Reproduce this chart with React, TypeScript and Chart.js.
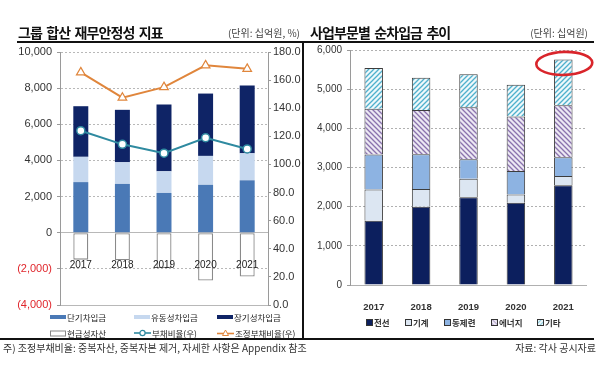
import React, { useEffect, useRef } from "react";
import { Chart, registerables } from "chart.js";

Chart.register(...registerables);

// ---------- data ----------
const YEARS = ["2017", "2018", "2019", "2020", "2021"];

// left chart (십억원 / %)
const SHORT_TERM = [2800, 2700, 2200, 2650, 2900];
const CURRENT_LT = [1400, 1200, 1200, 1600, 1500];
const LONG_TERM = [2800, 2900, 3700, 3450, 3750];
const CASH = [-1490, -1530, -1950, -2650, -2420];
const DEBT_RATIO = [124, 114.3, 108, 119, 111];
const ADJ_DEBT_RATIO = [165.5, 147.5, 155, 170.5, 168];
const LEFT_NAMES = ["단기차입금", "유동성차입금", "장기성차입금", "현금성자산", "부채비율(우)", "조정부채비율(우)"];

// right chart (십억원)
const WIRE = [1640, 2000, 2240, 2100, 2550];
const MACHINE = [800, 450, 470, 210, 230];
const COPPER = [890, 890, 500, 600, 480];
const ENERGY = [1170, 1130, 1330, 1390, 1330];
const OTHER = [1040, 820, 840, 815, 1170];
const RIGHT_NAMES = ["전선", "기계", "동제련", "에너지", "기타"];
const HIGHLIGHT_INDEX = 4;

// ---------- styles ----------
const KR = "'Noto Sans CJK KR', sans-serif";
const NUM = "'Liberation Sans', 'Noto Sans CJK KR', sans-serif";

const C_SHORT = "#4a79b6";
const C_CURLT = "#c6d8ef";
const C_LONG = "#0f2466";
const C_TEAL = "#2f8aa0";
const C_ORANGE = "#e0863c";
const C_WIRE = "#0c1f5e";
const C_MACHINE = "#dce6f2";
const C_COPPER = "#8db3e2";
const C_EN_BG = "#ece8f3";
const C_EN_FG = "#8a72ad";
const C_OT_BG = "#eef8fb";
const C_OT_FG = "#4fb0cc";

Chart.defaults.font.family = NUM;

const fmt = (v: number) => Math.abs(v).toLocaleString("en-US");

function hatch(bg: string, fg: string, dir: "/" | "\\") {
  const s = 5;
  const c = document.createElement("canvas");
  c.width = s;
  c.height = s;
  const g = c.getContext("2d")!;
  g.fillStyle = bg;
  g.fillRect(0, 0, s, s);
  g.strokeStyle = fg;
  g.lineWidth = 1.3;
  g.beginPath();
  if (dir === "/") {
    g.moveTo(-1, s + 1); g.lineTo(s + 1, -1);
    g.moveTo(-1, 1); g.lineTo(1, -1);
    g.moveTo(s - 1, s + 1); g.lineTo(s + 1, s - 1);
  } else {
    g.moveTo(-1, -1); g.lineTo(s + 1, s + 1);
    g.moveTo(-1, s - 1); g.lineTo(1, s + 1);
    g.moveTo(s - 1, -1); g.lineTo(s + 1, 1);
  }
  g.stroke();
  return g.createPattern(c, "repeat")!;
}

const gridDash = (zeroValues: number[]) => (ctx: any) =>
  ctx && ctx.tick && zeroValues.indexOf(ctx.tick.value) < 0 ? [2, 2] : [];

function LeftChart() {
  const ref = useRef<HTMLCanvasElement>(null);
  useEffect(() => {
    const chart = new Chart(ref.current!, {
      type: "bar",
      data: {
        labels: YEARS,
        datasets: [
          {
            type: "line",
            label: LEFT_NAMES[4],
            data: DEBT_RATIO,
            yAxisID: "y1",
            order: 0,
            borderColor: C_TEAL,
            borderWidth: 2,
            pointStyle: "circle",
            pointRadius: 4,
            pointBackgroundColor: "#fff",
            pointBorderColor: C_TEAL,
            pointBorderWidth: 1.5,
          } as any,
          {
            type: "line",
            label: LEFT_NAMES[5],
            data: ADJ_DEBT_RATIO,
            yAxisID: "y1",
            order: 0,
            borderColor: C_ORANGE,
            borderWidth: 2,
            pointStyle: "triangle",
            pointRadius: 5,
            pointBackgroundColor: "#fff",
            pointBorderColor: C_ORANGE,
            pointBorderWidth: 1.2,
          } as any,
          { label: LEFT_NAMES[0], data: SHORT_TERM, backgroundColor: C_SHORT, order: 1 },
          { label: LEFT_NAMES[1], data: CURRENT_LT, backgroundColor: C_CURLT, order: 1 },
          { label: LEFT_NAMES[2], data: LONG_TERM, backgroundColor: C_LONG, order: 1 },
          {
            label: LEFT_NAMES[3],
            data: CASH,
            backgroundColor: "#fff",
            borderColor: "#8a8a8a",
            borderWidth: 1.3,
            borderSkipped: false,
            order: 1,
          },
        ],
      },
      options: {
        responsive: false,
        animation: false,
        devicePixelRatio: 1,
        events: [],
        layout: { padding: { top: 52, bottom: 15, left: 0, right: 0 } },
        datasets: { bar: { categoryPercentage: 1, barPercentage: 0.36 } },
        plugins: { legend: { display: false }, tooltip: { enabled: false } },
        scales: {
          x: {
            stacked: true,
            position: { y: 0 } as any,
            grid: { display: false, drawTicks: false },
            border: { display: false },
            ticks: { z: 1, padding: 26.5, color: "#222", font: { size: 10 } },
          },
          y: {
            stacked: true,
            min: -4000,
            max: 10000,
            afterFit: (s: any) => { s.width = 60; },
            ticks: {
              stepSize: 2000,
              padding: 5,
              font: { size: 11 },
              color: (ctx: any) => (ctx.tick && ctx.tick.value < 0 ? "#e0262c" : "#333"),
              callback: (v: any) => (Number(v) < 0 ? `(${fmt(Number(v))})` : fmt(Number(v))),
            },
            grid: { color: "#b8b8b8", tickLength: 3, tickColor: "#9a9a9a", lineWidth: 1 },
            border: { display: true, color: "#9a9a9a", width: 1, dash: gridDash([0, -4000]) as any },
          },
          y1: {
            position: "right",
            min: 0,
            max: 180,
            afterFit: (s: any) => { s.width = 35; },
            ticks: {
              stepSize: 20,
              padding: 2,
              font: { size: 11 },
              color: "#333",
              callback: (v: any) => Number(v).toFixed(1),
            },
            grid: { drawOnChartArea: false, tickLength: 3, tickColor: "#9a9a9a" },
            border: { display: true, color: "#9a9a9a", width: 1 },
          },
        },
      } as any,
    });
    return () => chart.destroy();
  }, []);
  return (
    <canvas
      ref={ref}
      width={303}
      height={320}
      style={{ position: "absolute", left: 0, top: 0, width: 303, height: 320 }}
    />
  );
}

const ellipsePlugin = {
  id: "highlightEllipse",
  afterDatasetsDraw(chart: any) {
    const xs = chart.scales.x;
    const ys = chart.scales.y;
    let total = 0;
    chart.data.datasets.forEach((d: any) => { total += Number(d.data[HIGHLIGHT_INDEX]) || 0; });
    const x = xs.getPixelForValue(HIGHLIGHT_INDEX) + 1;
    const y = ys.getPixelForValue(total) + 4;
    const ctx = chart.ctx;
    ctx.save();
    ctx.beginPath();
    ctx.ellipse(x, y, 28, 11.5, -0.03, 0, Math.PI * 2);
    ctx.strokeStyle = "#d9252b";
    ctx.lineWidth = 2.6;
    ctx.stroke();
    ctx.restore();
  },
};

function RightChart() {
  const ref = useRef<HTMLCanvasElement>(null);
  useEffect(() => {
    const enPat = hatch(C_EN_BG, C_EN_FG, "\\");
    const otPat = hatch(C_OT_BG, C_OT_FG, "/");
    const common = { borderColor: "#3c3c3c", borderWidth: 1 };
    const chart = new Chart(ref.current!, {
      type: "bar",
      data: {
        labels: YEARS,
        datasets: [
          { label: RIGHT_NAMES[0], data: WIRE, backgroundColor: C_WIRE, ...common },
          { label: RIGHT_NAMES[1], data: MACHINE, backgroundColor: C_MACHINE, ...common },
          { label: RIGHT_NAMES[2], data: COPPER, backgroundColor: C_COPPER, ...common },
          { label: RIGHT_NAMES[3], data: ENERGY, backgroundColor: enPat as any, ...common },
          { label: RIGHT_NAMES[4], data: OTHER, backgroundColor: otPat as any, ...common },
        ],
      },
      options: {
        responsive: false,
        animation: false,
        devicePixelRatio: 1,
        events: [],
        layout: { padding: { top: 50, bottom: 30, left: 0, right: 13 } },
        datasets: { bar: { categoryPercentage: 1, barPercentage: 0.39 } },
        plugins: { legend: { display: false }, tooltip: { enabled: false } },
        scales: {
          x: {
            stacked: true,
            position: { y: 0 } as any,
            grid: { display: false, drawTicks: false },
            border: { display: false },
            ticks: { padding: 16.5, color: "#333", font: { size: 9.5, weight: "bold" } },
          },
          y: {
            stacked: true,
            min: 0,
            max: 6000,
            afterFit: (s: any) => { s.width = 47; },
            ticks: {
              stepSize: 1000,
              padding: 5,
              font: { size: 10 },
              color: "#333",
              callback: (v: any) => fmt(Number(v)),
            },
            grid: { color: "#b0b0b0", tickLength: 3, tickColor: "#9a9a9a", lineWidth: 1 },
            border: { display: true, color: "#9a9a9a", width: 1, dash: gridDash([0]) as any },
          },
        },
      } as any,
      plugins: [ellipsePlugin as any],
    });
    return () => chart.destroy();
  }, []);
  return (
    <canvas
      ref={ref}
      width={297}
      height={315}
      style={{ position: "absolute", left: 303, top: 0, width: 297, height: 315 }}
    />
  );
}

const txt = (extra: React.CSSProperties): React.CSSProperties => ({
  position: "absolute",
  whiteSpace: "nowrap",
  fontFamily: KR,
  ...extra,
});

function LeftLegend() {
  const cols = [50, 134, 217];
  const rows = [317, 333];
  const markers: React.ReactNode[] = [
    <svg width="16" height="6"><rect x="0" y="1" width="16" height="4" fill={C_SHORT} /></svg>,
    <svg width="16" height="6"><rect x="0" y="1" width="16" height="4" fill={C_CURLT} /></svg>,
    <svg width="16" height="6"><rect x="0" y="1" width="16" height="4" fill={C_LONG} /></svg>,
    <svg width="16" height="7"><rect x="0.5" y="1" width="15" height="5" fill="#fff" stroke="#888" strokeWidth="1" /></svg>,
    <svg width="17" height="8"><line x1="0" y1="4" x2="17" y2="4" stroke={C_TEAL} strokeWidth="1.6" /><circle cx="8.5" cy="4" r="2.6" fill="#fff" stroke={C_TEAL} strokeWidth="1.2" /></svg>,
    <svg width="17" height="8"><line x1="0" y1="4.5" x2="17" y2="4.5" stroke={C_ORANGE} strokeWidth="1.6" /><polygon points="8.5,1 11.5,6.5 5.5,6.5" fill="#fff" stroke={C_ORANGE} strokeWidth="1" /></svg>,
  ];
  return (
    <>
      {LEFT_NAMES.map((name, i) => {
        const c = cols[i % 3];
        const r = rows[Math.floor(i / 3)];
        return (
          <div key={name} style={txt({ left: c, top: r - 7, height: 14, display: "flex", alignItems: "center", fontSize: 8.5, color: "#222", lineHeight: "14px" })}>
            <span style={{ display: "inline-flex", marginRight: 1 }}>{markers[i]}</span>
            <span>{name}</span>
          </div>
        );
      })}
    </>
  );
}

function RightLegend() {
  const xs = [366, 405, 444, 491, 537];
  const y = 322;
  const fills = [C_WIRE, C_MACHINE, C_COPPER, "en", "ot"];
  return (
    <>
      {RIGHT_NAMES.map((name, i) => {
        const f = fills[i];
        return (
          <div key={name} style={txt({ left: xs[i], top: y - 7, height: 14, display: "flex", alignItems: "center", fontSize: 8.5, fontWeight: 700, color: "#333", lineHeight: "14px" })}>
            <svg width="7" height="7" style={{ marginRight: 1 }}>
              <defs>
                <pattern id={`p${i}`} width="3" height="3" patternUnits="userSpaceOnUse" patternTransform={f === "en" ? "rotate(-45)" : "rotate(45)"}>
                  <rect width="3" height="3" fill={f === "en" ? C_EN_BG : C_OT_BG} />
                  <line x1="0" y1="0" x2="0" y2="3" stroke={f === "en" ? C_EN_FG : C_OT_FG} strokeWidth="1.2" />
                </pattern>
              </defs>
              <rect x="0.5" y="0.5" width="6" height="6" fill={f === "en" || f === "ot" ? `url(#p${i})` : f} stroke="#333" strokeWidth="1" />
            </svg>
            <span>{name}</span>
          </div>
        );
      })}
    </>
  );
}

export default function App() {
  return (
    <div style={{ position: "fixed", left: 0, top: 0, width: 600, height: 370, background: "#fff", overflow: "hidden" }}>
      <LeftChart />
      <RightChart />

      <div style={txt({ left: 18, top: 24, fontSize: 14, fontWeight: 700, lineHeight: "16px", letterSpacing: "-0.9px", wordSpacing: "2px", color: "#111" })}>
        그룹 합산 재무안정성 지표
      </div>
      <div style={txt({ left: 180, width: 120, top: 26, fontSize: 10, lineHeight: "14px", textAlign: "right", color: "#444" })}>
        (단위: 십억원, %)
      </div>
      <div style={txt({ left: 310, top: 24, fontSize: 14, fontWeight: 700, lineHeight: "16px", letterSpacing: "-0.9px", wordSpacing: "2px", color: "#111" })}>
        사업부문별 순차입금 추이
      </div>
      <div style={txt({ left: 468, width: 120, top: 26, fontSize: 10, lineHeight: "14px", textAlign: "right", color: "#444" })}>
        (단위: 십억원)
      </div>

      <div style={{ position: "absolute", left: 17, top: 41, width: 577, height: 2, background: "#111" }} />
      <div style={{ position: "absolute", left: 302, top: 43, width: 2, height: 296, background: "#111" }} />
      <div style={{ position: "absolute", left: 0, top: 338, width: 594, height: 2, background: "#111" }} />

      <LeftLegend />
      <RightLegend />

      <div style={txt({ left: 3, top: 341, fontSize: 10, lineHeight: "14px", color: "#333" })}>
        주) 조정부채비율: 중복자산, 중복자본 제거, 자세한 사항은 Appendix 참조
      </div>
      <div style={txt({ left: 446, width: 150, top: 341, fontSize: 10, lineHeight: "14px", textAlign: "right", color: "#333" })}>
        자료: 각사 공시자료
      </div>
    </div>
  );
}
